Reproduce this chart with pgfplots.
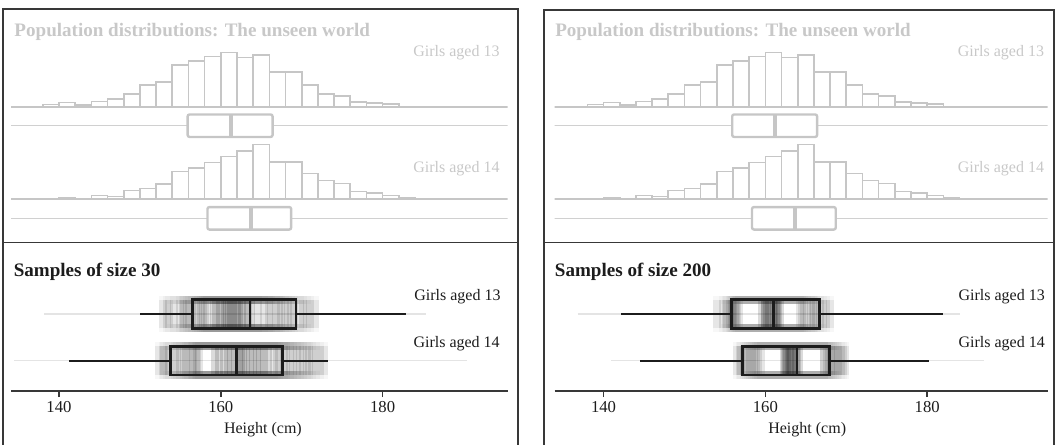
\documentclass[border=0pt]{standalone}
\usepackage{fontspec}
\setmainfont{Liberation Serif}
\usepackage{pgfplots}
\usepackage{pgfplotstable}
\pgfplotsset{compat=1.18}
\usepgfplotslibrary{statistics}

\definecolor{Pop}{HTML}{C6C6C6}
\definecolor{PopLine}{HTML}{D0D0D0}
\definecolor{PopText}{HTML}{C8C8C8}
\definecolor{Ink}{HTML}{1C1C1C}
\definecolor{Frame}{HTML}{383838}
\definecolor{Trail}{HTML}{E4E4E4}

% population histograms, 2 cm bins (bar heights in px)
\pgfplotstableread{
x h
136 0.3
138 2.3
140 4.3
142 2
144 5.3
146 7.7
148 13
150 22
152 25
154 42
156 46
158 50.3
160 54.3
162 49.3
164 51.7
166 35
168 35
170 22
172 13
174 11
176 5
178 4
180 3
182 0.3
184 0
}\histA
\pgfplotstableread{
x h
136 0
138 0
140 1.7
142 0.3
144 4
146 3
148 8.7
150 11
152 15.3
154 28
156 31.3
158 37
160 42.7
162 48.3
164 55
166 37.3
168 37.3
170 25.7
172 18.7
174 16
176 7.7
178 6.3
180 3.7
182 1.7
184 0
}\histB

\pgfplotsset{
  popaxis/.style={hide axis, scale only axis, height=69pt, ymin=-32, ymax=60},
  leftx/.style={xmin=134.08, xmax=195.45, width=372.375pt},
  rightx/.style={xmin=133.96, xmax=194.9, width=369.75pt},
  hist/.style={ybar interval, draw=Pop, fill=white, line width=1.2pt},
  popbox/.style={Pop, line width=1.8pt, boxplot/draw direction=x, boxplot/whisker extend=0,
    boxplot/every whisker/.style={draw=PopLine, line width=1pt},
    boxplot/every median/.style={line width=3pt},
    boxplot/every box/.style={rounded corners=1.5pt}},
  sampaxis/.style={scale only axis, height=111pt, ymin=0, ymax=148,
    axis x line=bottom, axis y line=none, axis line style={Frame, line width=1.1pt, -},
    xtick={140,160,180}, ytick=\empty, tick align=outside, major tick length=4.5pt,
    tick style={Frame, line width=1.1pt},
    ticklabel style={font=\fontsize{12.5}{15}\selectfont, text=Ink},
    /pgf/number format/assume math mode=true,
    xlabel={Height (cm)},
    xlabel style={font=\fontsize{12}{14}\selectfont, text=Ink, at={(axis description cs:0.5,0)}, anchor=center, yshift=-29pt}},
  trail/.style={draw=black, line width=6pt, boxplot/draw direction=x,
    boxplot/whisker extend=28.5,
    boxplot/every box/.style={draw opacity=0.03},
    boxplot/every whisker/.style={line cap=butt, draw opacity=0.07},
    boxplot/every median/.style={draw opacity=0.14}},
  darkbox/.style={Ink, line width=2pt, boxplot/draw direction=x, boxplot/whisker extend=0,
    boxplot/every whisker/.style={line width=1.5pt}},
}

% one box left behind by an earlier sample: {position}{q1}{median}{q3}
\newcommand{\trail}[4]{\addplot[trail, boxplot prepared={lower whisker=#2, lower quartile=#2,
  median=#3, upper quartile=#4, upper whisker=#4, draw position=#1, box extend=28.5}] coordinates {};}

\begin{document}
\begin{tikzpicture}
\useasboundingbox (0,0) rectangle (795pt,-333pt);

% ---------- left panel ----------
\begin{axis}[popaxis, leftx, at={(8.325pt,-104.025pt)}, anchor=south west]
\addplot[hist] table[x=x,y=h]{\histA};
\addplot[Pop, line width=1.6pt] coordinates {(120,0) (210,0)};
\addplot[popbox, boxplot prepared={lower whisker=120, lower quartile=155.9, median=161.2,
  upper quartile=166.4, upper whisker=210, draw position=-19, box extend=22.5}] coordinates {};
\end{axis}
\begin{axis}[popaxis, leftx, at={(8.325pt,-173.475pt)}, anchor=south west]
\addplot[hist] table[x=x,y=h]{\histB};
\addplot[Pop, line width=1.6pt] coordinates {(120,0) (210,0)};
\addplot[popbox, boxplot prepared={lower whisker=120, lower quartile=158.35, median=163.7,
  upper quartile=168.7, upper whisker=210, draw position=-19, box extend=22.5}] coordinates {};
\end{axis}
\begin{axis}[sampaxis, leftx, at={(8.325pt,-293.25pt)}, anchor=south west, xlabel style={xshift=2.7pt}]
\addplot[Trail, line width=1.1pt] coordinates {(138.2,77) (185.4,77)};
\addplot[Trail, line width=1.1pt] coordinates {(134.5,30.3) (190.4,30.3)};
\trail{77}{152.8}{160.2}{167.4}
\trail{77}{153.6}{161.0}{169.8}
\trail{77}{154.2}{159.4}{166.2}
\trail{77}{154.9}{162.3}{171.6}
\trail{77}{155.3}{160.8}{168.3}
\trail{77}{155.8}{161.7}{165.4}
\trail{77}{156.1}{159.9}{170.6}
\trail{77}{156.5}{162.8}{167.9}
\trail{77}{156.9}{161.3}{164.6}
\trail{77}{157.2}{163.4}{169.1}
\trail{77}{157.6}{160.5}{166.8}
\trail{77}{158.0}{162.0}{171.0}
\trail{77}{158.3}{163.7}{168.7}
\trail{77}{153.3}{161.5}{165.9}
\trail{77}{155.5}{159.1}{170.2}
\trail{77}{157.8}{162.6}{167.2}
\trail{30.3}{152.4}{160.4}{168.6}
\trail{30.3}{153.0}{162.8}{170.9}
\trail{30.3}{153.6}{161.2}{167.2}
\trail{30.3}{154.3}{164.5}{172.7}
\trail{30.3}{154.9}{159.3}{169.4}
\trail{30.3}{155.4}{163.6}{171.8}
\trail{30.3}{155.9}{162.2}{166.6}
\trail{30.3}{156.4}{165.3}{170.2}
\trail{30.3}{156.9}{160.9}{168.1}
\trail{30.3}{157.3}{164.0}{172.2}
\trail{30.3}{152.8}{161.8}{169.8}
\trail{30.3}{154.6}{165.8}{167.8}
\trail{30.3}{155.7}{163.1}{171.3}
\trail{30.3}{156.6}{159.8}{166.9}
\trail{30.3}{153.3}{164.8}{170.6}
\trail{30.3}{157.1}{162.5}{168.9}
\addplot[darkbox, boxplot prepared={lower whisker=150.06, lower quartile=156.5, median=163.6,
  upper quartile=169.3, upper whisker=182.87, draw position=77, box extend=28.5}] coordinates {};
\addplot[darkbox, boxplot prepared={lower whisker=141.2, lower quartile=153.8, median=161.9,
  upper quartile=167.65, upper whisker=173.2, draw position=30.3, box extend=28.5}] coordinates {};
\end{axis}

% ---------- right panel ----------
\begin{axis}[popaxis, rightx, at={(416.025pt,-104.025pt)}, anchor=south west]
\addplot[hist] table[x=x,y=h]{\histA};
\addplot[Pop, line width=1.6pt] coordinates {(120,0) (210,0)};
\addplot[popbox, boxplot prepared={lower whisker=120, lower quartile=155.9, median=161.2,
  upper quartile=166.4, upper whisker=210, draw position=-19, box extend=22.5}] coordinates {};
\end{axis}
\begin{axis}[popaxis, rightx, at={(416.025pt,-173.475pt)}, anchor=south west]
\addplot[hist] table[x=x,y=h]{\histB};
\addplot[Pop, line width=1.6pt] coordinates {(120,0) (210,0)};
\addplot[popbox, boxplot prepared={lower whisker=120, lower quartile=158.35, median=163.7,
  upper quartile=168.7, upper whisker=210, draw position=-19, box extend=22.5}] coordinates {};
\end{axis}
\begin{axis}[sampaxis, rightx, at={(416.025pt,-293.25pt)}, anchor=south west, xlabel style={xshift=4.5pt}]
\addplot[Trail, line width=1.1pt] coordinates {(136.8,77) (184.1,77)};
\addplot[Trail, line width=1.1pt] coordinates {(140.9,30.3) (187.0,30.3)};
\trail{77}{154.0}{160.6}{165.9}
\trail{77}{154.8}{161.4}{166.8}
\trail{77}{155.3}{159.6}{164.3}
\trail{77}{155.6}{160.9}{167.5}
\trail{77}{155.9}{161.8}{165.2}
\trail{77}{156.2}{160.2}{166.3}
\trail{77}{156.5}{161.1}{168.0}
\trail{77}{156.8}{159.9}{164.8}
\trail{77}{155.1}{160.5}{167.1}
\trail{77}{156.0}{161.6}{165.6}
\trail{77}{155.7}{160.0}{166.0}
\trail{77}{156.4}{161.3}{164.5}
\trail{30.3}{156.5}{162.4}{167.2}
\trail{30.3}{157.0}{163.2}{168.4}
\trail{30.3}{157.6}{162.9}{169.6}
\trail{30.3}{158.1}{163.8}{167.6}
\trail{30.3}{158.6}{162.3}{168.9}
\trail{30.3}{159.1}{163.5}{169.9}
\trail{30.3}{159.5}{164.1}{167.3}
\trail{30.3}{156.9}{162.7}{168.1}
\trail{30.3}{157.9}{163.0}{169.3}
\trail{30.3}{158.4}{163.9}{167.9}
\trail{30.3}{157.3}{162.5}{168.6}
\trail{30.3}{158.9}{163.3}{169.0}
\addplot[darkbox, boxplot prepared={lower whisker=142.1, lower quartile=155.8, median=161.0,
  upper quartile=166.7, upper whisker=181.9, draw position=77, box extend=28.5}] coordinates {};
\addplot[darkbox, boxplot prepared={lower whisker=144.5, lower quartile=157.2, median=163.9,
  upper quartile=167.9, upper whisker=180.2, draw position=30.3, box extend=28.5}] coordinates {};
\end{axis}

% ---------- frames and text (px units) ----------
\begin{scope}[x=0.75pt, y=-0.75pt]
\draw[Frame, line width=1.1pt] (3,446) -- (3,9) -- (518,9) -- (518,446);
\draw[Frame, line width=1.1pt] (3,242.7) -- (518,242.7);
\draw[Frame, line width=1.1pt] (544,446) -- (544,10) -- (1054,10) -- (1054,446);
\draw[Frame, line width=1.1pt] (544,242.7) -- (1054,242.7);
\begin{scope}[every node/.style={inner sep=0pt, font=\fontsize{12}{14}\selectfont}]
\node[anchor=west, text=PopText, font=\fontsize{14.3}{17}\selectfont\bfseries] at (14.2,31.7) {Population distributions: The unseen world};
\node[anchor=east, text=PopText] at (499.8,52.7) {Girls aged 13};
\node[anchor=east, text=PopText] at (499.8,168.3) {Girls aged 14};
\node[anchor=west, text=Ink, font=\fontsize{14.3}{17}\selectfont\bfseries] at (13.5,271.7) {Samples of size 30};
\node[anchor=east, text=Ink] at (500.8,296.7) {Girls aged 13};
\node[anchor=east, text=Ink] at (500,343.3) {Girls aged 14};
\node[anchor=west, text=PopText, font=\fontsize{14.3}{17}\selectfont\bfseries] at (555,31.7) {Population distributions: The unseen world};
\node[anchor=east, text=PopText] at (1044.3,52.7) {Girls aged 13};
\node[anchor=east, text=PopText] at (1044.3,168.3) {Girls aged 14};
\node[anchor=west, text=Ink, font=\fontsize{14.3}{17}\selectfont\bfseries] at (554.7,271.7) {Samples of size 200};
\node[anchor=east, text=Ink] at (1045,296.7) {Girls aged 13};
\node[anchor=east, text=Ink] at (1045,343.3) {Girls aged 14};
\end{scope}
\end{scope}
\end{tikzpicture}
\end{document}
